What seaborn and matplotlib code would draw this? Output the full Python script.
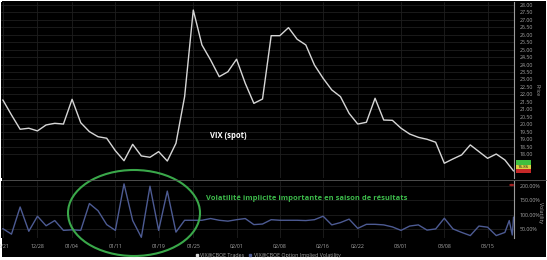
import numpy as np
import pandas as pd
import seaborn as sns
import matplotlib.pyplot as plt
from matplotlib.patches import Ellipse, Rectangle, Circle
from matplotlib.lines import Line2D
from matplotlib.ticker import FuncFormatter

# ---- data ----
vix = [21.63, 20.62, 19.66, 19.73, 19.55, 19.95, 20.06, 20.01, 21.67, 20.10,
       19.50, 19.16, 19.06, 18.22, 17.55, 18.65, 17.87, 17.78, 18.16, 17.53,
       18.72, 21.85, 27.66, 25.32, 24.31, 23.19, 23.52, 24.36, 22.75, 21.40,
       21.69, 25.94, 25.94, 26.48, 25.70, 25.32, 23.97, 23.08, 22.30, 21.85,
       20.73, 20.01, 20.13, 21.74, 20.28, 20.26, 19.73, 19.34, 19.12, 18.99,
       18.79, 17.38, 17.67, 17.94, 18.61, 18.16, 17.71, 18.00, 17.60, 16.86]
vix_day = list(range(len(vix)))

iv = [52, 33, 127, 43, 95, 62, 80, 46, 48, 46,
      139, 114, 66, 46, 207, 80, 22, 199, 46, 182,
      40, 81, 81, 81, 87, 81, 78, 83, 87, 66,
      68, 83, 81, 81, 81, 80, 83, 95, 65, 73,
      85, 53, 67, 67, 65, 58, 46, 61, 65, 47,
      51, 88, 51, 39, 28, 61, 57, 28, 39, 80, 30, 92]
iv_day = list(range(59)) + [58.5, 58.85, 59]

tick_days = [0, 4, 8, 13, 18, 22, 27, 32, 37, 41, 46, 51, 56]
tick_labels = ['12/21', '12/28', '01/04', '01/11', '01/19', '01/25', '02/01',
               '02/08', '02/16', '02/22', '03/01', '03/08', '03/15']
price_ticks = list(np.arange(18.0, 28.01, 0.5))
vol_ticks = [50, 100, 150, 200]
last_price = '16.86'
series_names = ['VIX@CBOE Trades', 'VIX@CBOE Option Implied Volatility']

# ---- style ----
sns.set_theme(style="dark")
plt.rcParams['font.family'] = ['Open Sans', 'DejaVu Sans']

W, H = 547, 260
fig = plt.figure(figsize=(W / 100, H / 100), dpi=100, facecolor='white')
fig.add_artist(Rectangle((2 / W, 1 - 257 / H), 544 / W, 256 / H, transform=fig.transFigure,
                         facecolor='black', edgecolor='none', zorder=-10))

ax1 = fig.add_axes([0.002, 1 - 178 / H, 514 / W - 0.002, 176 / H])
ax2 = fig.add_axes([0.002, 1 - 238 / H, 514 / W - 0.002, 57 / H])

line_c = '#d6d6d6'
iv_c = '#4d5b93'
grid_c = '#1e1e1e'
lab_c = '#a8a8a8'

df1 = pd.DataFrame({'day': vix_day, 'value': vix})
df2 = pd.DataFrame({'day': iv_day, 'value': iv})
sns.lineplot(data=df1, x='day', y='value', ax=ax1, color=line_c, lw=1.0)
sns.lineplot(data=df2, x='day', y='value', ax=ax2, color=iv_c, lw=1.0)

for ax in (ax1, ax2):
    ax.set_facecolor('black')
    ax.set_xlim(-0.2, 59.05)
    ax.set_xlabel('')
    ax.set_ylabel('')
    ax.set_xticks(tick_days)
    ax.yaxis.tick_right()
    ax.grid(True, color=grid_c, lw=0.6)
    for s in ('left', 'top', 'bottom'):
        ax.spines[s].set_visible(False)
    ax.spines['right'].set_color('#9a9a9a')
    ax.spines['right'].set_linewidth(0.8)
    ax.tick_params(axis='y', labelsize=3.8, colors=lab_c, length=0, pad=4)

ax1.set_ylim(16.39, 28.2)
ax1.set_yticks(price_ticks)
ax1.yaxis.set_major_formatter(FuncFormatter(lambda v, p: f'{v:.2f}'))
ax1.tick_params(axis='x', labelbottom=False, length=0)

ax2.set_ylim(19.6, 217)
ax2.set_yticks(vol_ticks)
ax2.yaxis.set_major_formatter(FuncFormatter(lambda v, p: f'{v:.2f}%'))
ax2.set_xticklabels(tick_labels)
ax2.tick_params(axis='x', labelsize=3.8, colors=lab_c, length=0, pad=4)

# separator line between panels
fig.add_artist(Line2D([2 / W, 546 / W], [1 - 180 / H, 1 - 180 / H], transform=fig.transFigure,
                      color='#5a5a5a', lw=0.6))

# axis titles
fig.text(537 / W, 1 - 90 / H, 'Price', rotation=270, fontsize=3.8, color=lab_c, ha='center', va='center')
fig.text(541 / W, 1 - 213 / H, 'Volatility', rotation=270, fontsize=3.8, color=lab_c, ha='center', va='center')

# last price marker
box_x = 516 / W
box_w = 15 / W
for y0, y1, c in [(160, 164.5, '#3fbf3f'), (164.5, 168.5, '#d8d040'), (168.5, 173, '#c62828')]:
    fig.add_artist(Rectangle((box_x, 1 - y1 / H), box_w, (y1 - y0) / H, transform=fig.transFigure,
                             facecolor=c, edgecolor='none'))
fig.text(box_x + box_w / 2, 1 - 166.5 / H, last_price, fontsize=3.2, color='#202020',
         ha='center', va='center')
fig.add_artist(Circle((511.7 / W, 1 - 185 / H), 2.5 / W, transform=fig.transFigure,
                      facecolor='#a02020', edgecolor='none'))

# annotations
fig.text(228 / W, 1 - 135 / H, 'VIX (spot)', fontsize=5.5, fontweight='bold', color='white',
         ha='center', va='center')
fig.text(206 / W, 1 - 198 / H, 'Volatilité implicite importante en saison de résultats',
         fontsize=5.4, fontweight='bold', color='#3dbb4b', ha='left', va='center')
fig.add_artist(Ellipse((134 / W, 1 - 213 / H), 132 / W, 86 / H, transform=fig.transFigure,
                       fill=False, edgecolor='#3aa84a', lw=1.5))

# legend
handles = [Line2D([], [], marker='s', ls='', color=line_c, markersize=2),
           Line2D([], [], marker='s', ls='', color=iv_c, markersize=2)]
fig.legend(handles, series_names, loc='center', bbox_to_anchor=(268 / W, 1 - 255 / H),
           ncol=2, fontsize=3.8, frameon=False, handlelength=0.6, handletextpad=0.3,
           columnspacing=0.8, labelcolor=lab_c)

fig.savefig('out.png', dpi=100, facecolor='white')
